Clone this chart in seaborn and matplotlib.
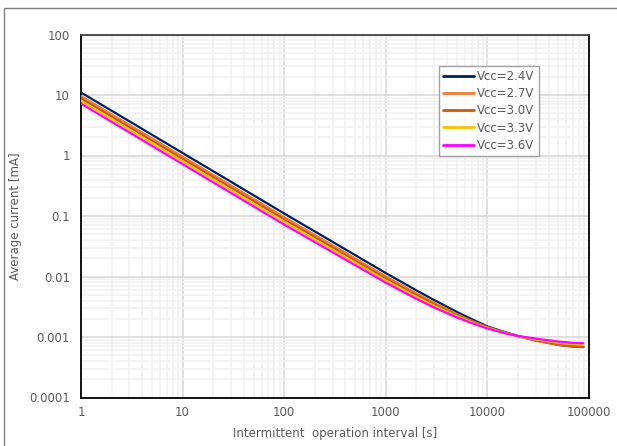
import matplotlib
matplotlib.use("Agg")
import matplotlib.pyplot as plt
from matplotlib.patches import Rectangle
from matplotlib.ticker import LogLocator, FixedLocator, NullFormatter
import seaborn as sns
import pandas as pd

interval_s = [1, 10, 100, 1000, 2000, 3000, 5000, 7000, 10000, 15000, 20000, 30000, 50000, 70000, 88000]
i_24 = [11.0, 1.10, 0.110, 0.0114, 0.0059, 0.00407, 0.0026, 0.00197, 0.00150, 0.00120, 0.00104, 0.00088, 0.00074, 0.00069, 0.00068]
i_27 = [9.6, 0.96, 0.096, 0.0101, 0.00527, 0.00367, 0.00239, 0.00185, 0.00146, 0.00118, 0.00103, 0.00087, 0.00074, 0.00070, 0.00069]
i_30 = [8.8, 0.88, 0.088, 0.0093, 0.00493, 0.00347, 0.00230, 0.00181, 0.00144, 0.00117, 0.00103, 0.00088, 0.00076, 0.00071, 0.00069]
i_33 = [8.0, 0.80, 0.080, 0.0086, 0.0046, 0.00327, 0.00220, 0.00175, 0.00141, 0.00116, 0.00103, 0.00091, 0.00080, 0.00076, 0.00074]
i_36 = [7.2, 0.72, 0.072, 0.0079, 0.00426, 0.00306, 0.00210, 0.00170, 0.00138, 0.00115, 0.00104, 0.00094, 0.00084, 0.00080, 0.00079]
series_names = ["Vcc=2.4V", "Vcc=2.7V", "Vcc=3.0V", "Vcc=3.3V", "Vcc=3.6V"]
colors = ["#002060", "#ED7D31", "#C55A11", "#FFC000", "#FF00FF"]
x_ticks = [1, 10, 100, 1000, 10000, 100000]
x_tick_labels = ["1", "10", "100", "1000", "10000", "100000"]
y_ticks = [0.0001, 0.001, 0.01, 0.1, 1, 10, 100]
y_tick_labels = ["0.0001", "0.001", "0.01", "0.1", "1", "10", "100"]

rows = []
for name, vals in zip(series_names, [i_24, i_27, i_30, i_33, i_36]):
    for t, v in zip(interval_s, vals):
        rows.append({"t": t, "I": v, "Vcc": name})
df = pd.DataFrame(rows)

sns.set_style("white")
plt.rcParams["font.family"] = ["DejaVu Sans"]
text_color = "#595959"

fig = plt.figure(figsize=(6.17, 4.46), dpi=100)
fig.patches.append(Rectangle((4 / 617, -0.1), 1.2, 1.1 - 8 / 446, transform=fig.transFigure,
                             fill=False, edgecolor="#7f7f7f", linewidth=1.0))
ax = fig.add_axes([81 / 617, 1 - 397.5 / 446, 508 / 617, 363 / 446])

sns.lineplot(data=df, x="t", y="I", hue="Vcc", palette=colors, linewidth=1.6, ax=ax,
             legend=True, zorder=3)

ax.set_xscale("log")
ax.set_yscale("log")
ax.set_xlim(1, 100000)
ax.set_ylim(0.0001, 100)
ax.xaxis.set_major_locator(FixedLocator(x_ticks))
ax.set_xticklabels(x_tick_labels)
ax.yaxis.set_major_locator(FixedLocator(y_ticks))
ax.set_yticklabels(y_tick_labels)
ax.xaxis.set_minor_locator(LogLocator(base=10, subs=range(2, 10), numticks=20))
ax.yaxis.set_minor_locator(LogLocator(base=10, subs=range(2, 10), numticks=20))
ax.xaxis.set_minor_formatter(NullFormatter())
ax.yaxis.set_minor_formatter(NullFormatter())
ax.grid(True, which="major", color="#d9d9d9", linewidth=1.2, zorder=1)
ax.grid(True, which="minor", color="#f0f0f0", linewidth=1.1, zorder=0)
ax.set_axisbelow(True)
ax.tick_params(which="both", length=0, labelsize=8.5, labelcolor=text_color)
ax.tick_params(axis="x", pad=6)
ax.tick_params(axis="y", pad=8)

ax.set_xlabel("Intermittent  operation interval [s]", fontsize=8.5, color=text_color, labelpad=6)
ax.set_ylabel("Average current [mA]", fontsize=8.5, color=text_color, labelpad=5)

for side in ["left", "bottom", "right"]:
    ax.spines[side].set_color("black")
    ax.spines[side].set_linewidth(1.3)
ax.spines["top"].set_color("#404040")
ax.spines["top"].set_linewidth(1.3)

handles, labels = ax.get_legend_handles_labels()
leg = ax.legend(handles, labels, loc="upper left",
                bbox_to_anchor=((439 - 81) / 508, (397.5 - 66) / 363),
                frameon=True, fancybox=False, fontsize=8.5, handlelength=2.6,
                handletextpad=0.3, labelspacing=0.35, borderpad=0.35, borderaxespad=0)
leg.get_frame().set_edgecolor("#8c8c8c")
leg.get_frame().set_linewidth(1.0)
for txt in leg.get_texts():
    txt.set_color(text_color)
for line in leg.get_lines():
    line.set_linewidth(2.0)

fig.savefig("out.png", dpi=100)
